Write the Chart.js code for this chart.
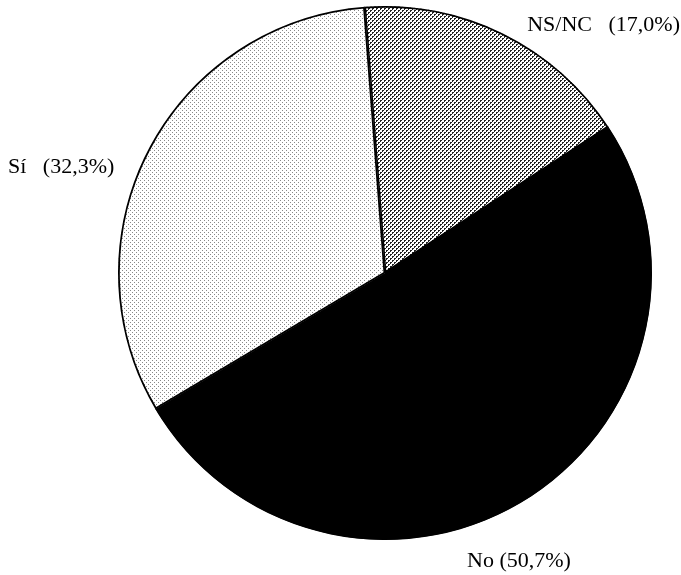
<!DOCTYPE html>
<html>
<head>
<meta charset="utf-8">
<script src="https://cdn.jsdelivr.net/npm/chart.js@4/dist/chart.umd.min.js"></script>
<style>
  html,body{margin:0;padding:0;background:#fff;}
  #wrap{width:681px;height:575px;position:relative;}
</style>
</head>
<body>
<div id="wrap"><canvas id="pie"></canvas></div>
<script>
'use strict';

// --- Data ---
const labels = ['NS/NC', 'No', 'Sí'];
const values = [17.0, 50.7, 32.3];
const labelTexts = ['NS/NC   (17,0%)', 'No (50,7%)', 'Sí   (32,3%)'];

// stipple fills like the scanned original
function makePattern(size, dots, dotColor){
  const c = document.createElement('canvas');
  c.width = size; c.height = size;
  const g = c.getContext('2d');
  g.fillStyle = '#fff'; g.fillRect(0,0,size,size);
  g.fillStyle = dotColor;
  dots.forEach(([x,y])=> g.fillRect(x,y,1,1));
  return g.createPattern(c, 'repeat');
}
const ctx = document.getElementById('pie').getContext('2d');
const darkDots  = makePattern(4, [[0,0],[1,0],[2,2],[3,2],[0,1],[2,3]], '#222');
const lightDots = makePattern(4, [[0,0],[2,2]], '#888');

// labels drawn outside the pie
const outerLabels = {
  id:'outerLabels',
  afterDraw(chart, args, opts){
    const c = chart.ctx;
    c.save();
    c.font = opts.font;
    c.fillStyle = '#000';
    c.textBaseline = 'alphabetic';
    opts.pos.forEach((p,i)=>{
      c.textAlign = p[2];
      c.fillText(labelTexts[i], p[0], p[1]);
    });
    c.restore();
  }
};

new Chart(ctx, {
  type:'pie',
  data:{
    labels,
    datasets:[{
      data: values,
      backgroundColor:[darkDots, '#000', lightDots],
      borderColor:'#000',
      borderWidth:1.5,
      borderAlign:'inner'
    }]
  },
  options:{
    responsive:true,
    maintainAspectRatio:false,
    animation:false,
    rotation:-4.4,
    layout:{ padding:{ left:118, right:29, top:6, bottom:35 } },
    plugins:{
      legend:{ display:false },
      tooltip:{ enabled:false },
      outerLabels:{
        font:'22px "Liberation Serif"',
        pos:[[680, 31, 'right'], [467, 567, 'left'], [8, 173, 'left']]
      }
    }
  },
  plugins:[outerLabels]
});
</script>
</body>
</html>
